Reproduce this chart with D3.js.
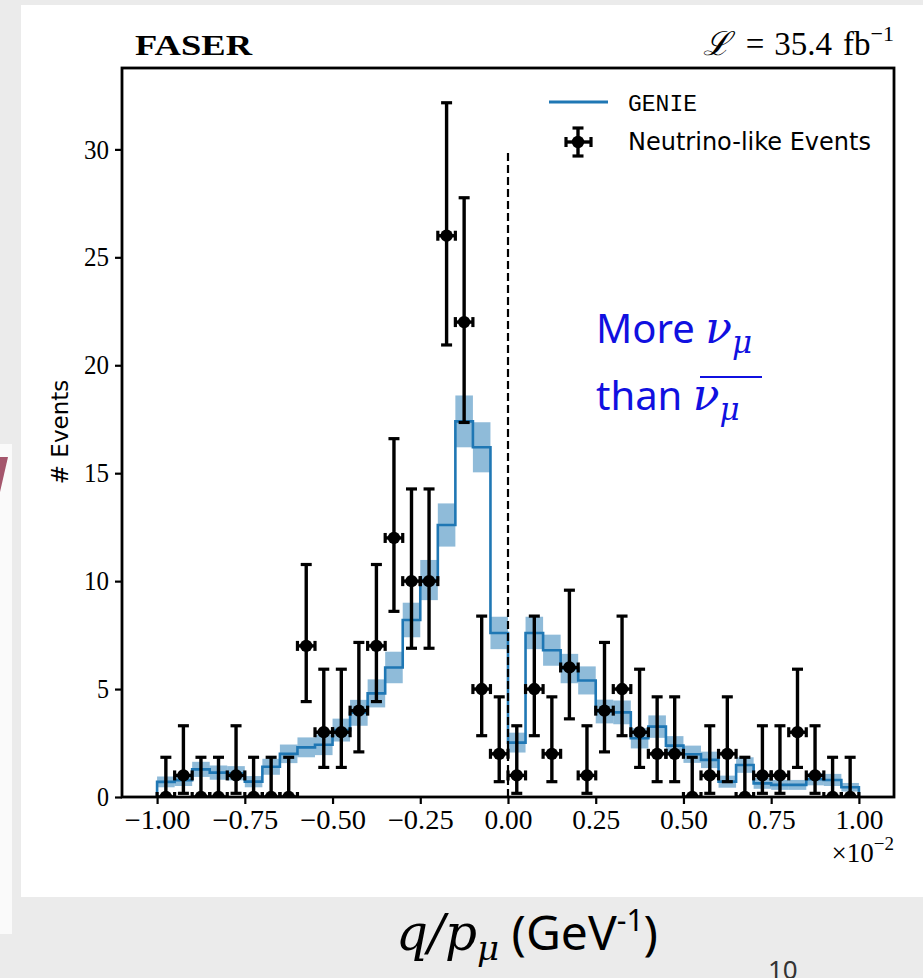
<!DOCTYPE html>
<html>
<head>
<meta charset="utf-8">
<script src="https://cdn.jsdelivr.net/npm/d3@7"></script>
<style>
  html, body { margin: 0; padding: 0; background: #ebebeb; }
  svg { display: block; }
</style>
</head>
<body>
<svg id="svg" width="923" height="978"></svg>
<script>
// ----- Data -----
const binEdges = [-1.00, -0.95, -0.90, -0.85, -0.80, -0.75, -0.70, -0.65, -0.60, -0.55,
  -0.50, -0.45, -0.40, -0.35, -0.30, -0.25, -0.20, -0.15, -0.10, -0.05,
  0.00, 0.05, 0.10, 0.15, 0.20, 0.25, 0.30, 0.35, 0.40, 0.45,
  0.50, 0.55, 0.60, 0.65, 0.70, 0.75, 0.80, 0.85, 0.90, 0.95, 1.00];

// observed neutrino-like events per bin
const counts = [0, 1, 0, 0, 1, 0, 0, 0, 7, 3, 3, 4, 7, 12, 10, 10, 26, 22, 5, 2,
  1, 5, 2, 6, 1, 4, 5, 3, 2, 2, 0, 1, 2, 0, 1, 1, 3, 1, 0, 0];

// GENIE prediction per bin and its band half-width
const genie = [0.70, 0.78, 1.28, 1.13, 1.10, 0.71, 1.40, 2.00, 2.30, 2.42,
  3.10, 3.90, 4.80, 6.00, 8.20, 10.05, 12.60, 17.40, 16.20, 7.60,
  2.52, 7.60, 6.80, 5.95, 5.40, 3.96, 3.92, 2.72, 3.26, 2.38,
  1.98, 1.72, 0.71, 1.48, 0.63, 0.56, 0.56, 0.82, 0.79, 0.45];
const genieErr = [0.25, 0.27, 0.35, 0.33, 0.33, 0.26, 0.37, 0.43, 0.46, 0.48,
  0.53, 0.60, 0.65, 0.73, 0.80, 0.93, 1.00, 1.20, 1.16, 0.75,
  0.46, 0.75, 0.72, 0.68, 0.65, 0.55, 0.55, 0.47, 0.52, 0.44,
  0.40, 0.38, 0.28, 0.36, 0.25, 0.23, 0.23, 0.28, 0.28, 0.20];

// error bar bounds [low, high] for each observed count
const countInterval = {
  0: [0, 1.84], 1: [0.17, 3.30], 2: [0.71, 4.64], 3: [1.37, 5.92],
  4: [2.09, 7.16], 5: [2.84, 8.38], 6: [3.62, 9.58], 7: [4.42, 10.77],
  10: [6.89, 14.27], 12: [8.60, 16.60], 22: [17.35, 27.76], 26: [20.94, 32.16]
};

const xTicks = [-1.00, -0.75, -0.50, -0.25, 0.00, 0.25, 0.50, 0.75, 1.00];
const yTicks = [0, 5, 10, 15, 20, 25, 30];

// ----- Layout -----
const svg = d3.select("#svg");
const plot = { left: 122, right: 894, top: 68, bottom: 797 };
const blue = "#1f77b4";
const serif = "'Liberation Serif', 'DejaVu Serif', serif";
const mathFont = "'DejaVu Serif', serif";

const x = d3.scaleLinear().domain([-1.1, 1.1]).range([plot.left, plot.right]);
const y = d3.scaleLinear().domain([0, 33.77]).range([plot.bottom, plot.top]);

// ----- slide background bits -----
svg.append("rect").attr("x", 21).attr("y", 5).attr("width", 902).attr("height", 892).attr("fill", "#fff");
svg.append("rect").attr("x", 0).attr("y", 444).attr("width", 12).attr("height", 490).attr("fill", "#fafafa");
svg.append("path").attr("d", "M0,457 L8,457 L0,492 Z").attr("fill", "#a4566c");

// ----- Plot content -----
svg.append("clipPath").attr("id", "clip")
  .append("rect")
  .attr("x", plot.left).attr("y", plot.top)
  .attr("width", plot.right - plot.left).attr("height", plot.bottom - plot.top);

const gPlot = svg.append("g").attr("clip-path", "url(#clip)");

const bins = counts.map((c, i) => ({
  x0: binEdges[i], x1: binEdges[i + 1], xc: (binEdges[i] + binEdges[i + 1]) / 2,
  count: c, genie: genie[i], err: genieErr[i]
}));

// GENIE uncertainty band
gPlot.selectAll(".band")
  .data(bins)
  .enter()
  .append("rect")
  .attr("class", "band")
  .attr("x", d => x(d.x0))
  .attr("width", d => x(d.x1) - x(d.x0))
  .attr("y", d => y(d.genie + d.err))
  .attr("height", d => y(d.genie - d.err) - y(d.genie + d.err))
  .attr("fill", blue)
  .attr("fill-opacity", 0.5);

// GENIE step line
const stepPts = [[binEdges[0], 0]];
bins.forEach(b => stepPts.push([b.x0, b.genie]));
stepPts.push([binEdges[binEdges.length - 1], genie[genie.length - 1]]);
stepPts.push([binEdges[binEdges.length - 1], 0]);

gPlot.append("path")
  .attr("d", d3.line().x(d => x(d[0])).y(d => y(d[1])).curve(d3.curveStepAfter)(stepPts))
  .attr("fill", "none")
  .attr("stroke", blue)
  .attr("stroke-width", 2.6);

// dashed line at q/p = 0
gPlot.append("line")
  .attr("x1", x(0)).attr("x2", x(0))
  .attr("y1", y(0)).attr("y2", y(30))
  .attr("stroke", "#000")
  .attr("stroke-width", 2.2)
  .attr("stroke-dasharray", "8,4");

// data error bars
function drawErrorBar(g, cx, cy, xl, xr, yt, yb) {
  const w = 3.4;
  g.append("line").attr("x1", cx).attr("x2", cx).attr("y1", yt).attr("y2", yb)
    .attr("stroke", "#000").attr("stroke-width", w);
  g.append("line").attr("x1", xl).attr("x2", xr).attr("y1", cy).attr("y2", cy)
    .attr("stroke", "#000").attr("stroke-width", w);
  // caps
  [yt, yb].forEach(v => g.append("line").attr("x1", cx - 5.5).attr("x2", cx + 5.5)
    .attr("y1", v).attr("y2", v).attr("stroke", "#000").attr("stroke-width", 3.2));
  [xl, xr].forEach(v => g.append("line").attr("x1", v).attr("x2", v)
    .attr("y1", cy - 5).attr("y2", cy + 5).attr("stroke", "#000").attr("stroke-width", 3.2));
  g.append("circle").attr("cx", cx).attr("cy", cy).attr("r", 6.2).attr("fill", "#000");
}

const gErr = gPlot.append("g");
bins.forEach(b => {
  const iv = countInterval[b.count];
  drawErrorBar(gErr, x(b.xc), y(b.count), x(b.x0), x(b.x1), y(iv[1]), y(iv[0]));
});

// ----- Axes -----
const xAxis = svg.append("g")
  .attr("transform", `translate(0,${plot.bottom})`)
  .call(d3.axisBottom(x).tickValues(xTicks).tickSize(7).tickPadding(6)
    .tickFormat(d3.format(".2f")));
const yAxis = svg.append("g")
  .attr("transform", `translate(${plot.left},0)`)
  .call(d3.axisLeft(y).tickValues(yTicks).tickSize(7).tickPadding(6)
    .tickFormat(d3.format("d")));

[xAxis, yAxis].forEach(a => {
  a.select(".domain").remove();
  a.selectAll(".tick line").attr("stroke", "#000").attr("stroke-width", 2.2);
  a.selectAll(".tick text")
    .attr("fill", "#000")
    .style("font-family", serif)
    .style("font-size", "27px");
});
// computer-modern style labels run wider than Times
xAxis.selectAll(".tick text")
  .attr("textLength", d => d < 0 ? 66 : 48)
  .attr("lengthAdjust", "spacingAndGlyphs");
yAxis.selectAll(".tick text")
  .attr("textLength", d => d >= 10 ? 25 : 12)
  .attr("lengthAdjust", "spacingAndGlyphs");

// frame
svg.append("rect")
  .attr("x", plot.left).attr("y", plot.top)
  .attr("width", plot.right - plot.left).attr("height", plot.bottom - plot.top)
  .attr("fill", "none").attr("stroke", "#000").attr("stroke-width", 2.8);

// offset text
const off = svg.append("text")
  .attr("x", plot.right).attr("y", 862)
  .attr("text-anchor", "end")
  .style("font-family", serif)
  .style("font-size", "27px");
off.append("tspan").text("×10");
off.append("tspan").attr("dy", -12).style("font-size", "19px").text("−2");

// y label
svg.append("text")
  .attr("transform", "translate(68,432) rotate(-90)")
  .attr("text-anchor", "middle")
  .style("font-family", "'DejaVu Sans', sans-serif")
  .style("font-size", "23px")
  .text("# Events");

// header texts
svg.append("text")
  .attr("x", 135).attr("y", 55)
  .style("font-family", serif)
  .style("font-weight", "bold")
  .style("font-size", "29px")
  .attr("textLength", 117).attr("lengthAdjust", "spacingAndGlyphs")
  .text("FASER");

const lumi = svg.append("text")
  .attr("x", plot.right).attr("y", 55)
  .attr("text-anchor", "end")
  .style("font-family", serif)
  .style("font-size", "33px");
lumi.append("tspan").style("font-style", "italic").style("font-family", mathFont).text("ℒ");
lumi.append("tspan").attr("dx", 16).text("=");
lumi.append("tspan").attr("dx", 10).text("35.4");
lumi.append("tspan").attr("dx", 11).text("fb");
lumi.append("tspan").attr("dy", -14).style("font-size", "22px").text("−1");

// legend
svg.append("line").attr("x1", 549).attr("x2", 608).attr("y1", 102).attr("y2", 102)
  .attr("stroke", blue).attr("stroke-width", 2.8);
svg.append("text").attr("x", 628).attr("y", 111)
  .style("font-family", "'Liberation Mono', 'DejaVu Sans Mono', monospace")
  .style("font-size", "23px")
  .text("GENIE");
drawErrorBar(svg.append("g"), 578, 142, 566, 591, 128, 156);
svg.append("text").attr("x", 628).attr("y", 150)
  .style("font-family", "'DejaVu Sans', sans-serif")
  .style("font-size", "24px")
  .text("Neutrino-like Events");

// annotation
const annBlue = "#1010e0";
const t1 = svg.append("text").attr("x", 596).attr("y", 343)
  .attr("fill", annBlue)
  .style("font-family", "'Noto Sans', 'Open Sans', sans-serif")
  .style("font-size", "40px");
t1.append("tspan").text("More ");
t1.append("tspan").style("font-family", mathFont).style("font-style", "italic").style("font-size", "44px").text("ν");
t1.append("tspan").attr("dy", 10).style("font-family", mathFont).style("font-style", "italic")
  .style("font-size", "31px").text("μ");

const t2 = svg.append("text").attr("x", 596).attr("y", 410)
  .attr("fill", annBlue)
  .style("font-family", "'Noto Sans', 'Open Sans', sans-serif")
  .style("font-size", "40px");
t2.append("tspan").text("than ");
t2.append("tspan").style("font-family", mathFont).style("font-style", "italic").style("font-size", "44px").text("ν");
t2.append("tspan").attr("dy", 10).style("font-family", mathFont).style("font-style", "italic")
  .style("font-size", "31px").text("μ");
svg.append("line").attr("x1", 700).attr("x2", 762).attr("y1", 377).attr("y2", 377)
  .attr("stroke", annBlue).attr("stroke-width", 2.2);

// x label (slide text)
const xl = svg.append("text").attr("x", 527).attr("y", 950)
  .attr("text-anchor", "middle")
  .attr("fill", "#000")
  .style("font-family", "'Noto Sans', 'Open Sans', sans-serif")
  .style("font-size", "48px");
xl.append("tspan").style("font-family", mathFont).style("font-style", "italic").style("font-size", "50px").text("q/p");
xl.append("tspan").attr("dy", 10).style("font-family", mathFont).style("font-style", "italic")
  .style("font-size", "34px").text("μ");
xl.append("tspan").attr("dy", -10).text(" (GeV");
xl.append("tspan").attr("dy", -19).style("font-size", "30px").text("-1");
xl.append("tspan").attr("dy", 19).text(")");

svg.append("text").attr("x", 768).attr("y", 979)
  .attr("fill", "#333")
  .style("font-family", "'Noto Sans', sans-serif")
  .style("font-size", "26px")
  .text("10");
</script>
</body>
</html>
